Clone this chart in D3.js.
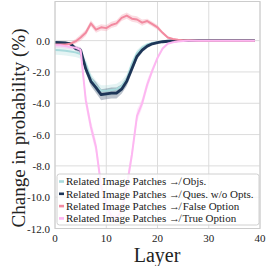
<!DOCTYPE html>
<html>
<head>
<meta charset="utf-8">
<script src="https://cdn.jsdelivr.net/npm/d3@7"></script>
<style>
  body { margin: 0; background: #fff; }
</style>
</head>
<body>
<svg id="chart" width="266" height="266"></svg>
<script>
// layers 0..39
const layers = d3.range(0, 40);

const objVals  = [-0.6,-0.62,-0.65,-0.7,-0.75,-0.85,-1.5,-2.4,-2.9,-3.2,-3.2,-3.15,-3.1,-2.9,-2.45,-1.5,-0.8,-0.45,-0.25,-0.15,-0.1,-0.05,-0.03,-0.01,0,0,0,0,0,0,0,0,0,0,0,0,0,0,0,0];
const quesVals = [-0.12,-0.13,-0.15,-0.2,-0.5,-0.6,-1.8,-2.6,-3.0,-3.45,-3.4,-3.35,-3.35,-3.1,-2.6,-1.8,-1.0,-0.6,-0.35,-0.2,-0.12,-0.07,-0.04,-0.02,0,0,0,0,0,0,0,0,0,0,0,0,0,0,0,0];
const falseVals = [-0.25,-0.25,-0.25,-0.2,-0.05,0.2,0.5,1.1,0.7,0.85,0.8,1.0,1.1,1.45,1.6,1.4,1.35,1.15,1.25,1.05,0.85,0.5,0.2,0.1,0.05,0.03,0.02,0.01,0,0,0,0,0,0,0,0,0,0,0,0];
const trueVals = [-0.3,-0.3,-0.35,-0.4,-0.45,-0.6,-3.8,-5.5,-6.8,-9.3,-10.5,-11.2,-11.3,-10.9,-9.3,-7.3,-4.8,-4.0,-2.8,-1.9,-1.1,-0.5,-0.2,-0.1,-0.05,-0.02,0,0,0,0,0,0,0,0,0,0,0,0,0,0];

// confidence half-widths
const objErr  = [0.3,0.3,0.3,0.3,0.3,0.3,0.3,0.3,0.35,0.35,0.35,0.35,0.35,0.35,0.3,0.25,0.2,0.15,0.1,0.08,0.05,0.05,0.03,0.03,0.02,0.02,0.02,0.02,0.02,0.02,0.02,0.02,0.02,0.02,0.02,0.02,0.02,0.02,0.02,0.02];
const quesErr = [0.1,0.1,0.1,0.1,0.15,0.15,0.25,0.3,0.35,0.35,0.35,0.35,0.35,0.3,0.3,0.25,0.2,0.15,0.1,0.05,0.03,0.03,0.03,0.03,0.03,0.03,0.03,0.03,0.03,0.03,0.03,0.03,0.03,0.03,0.03,0.03,0.03,0.03,0.03,0.03];
const falseErr = [0.1,0.1,0.1,0.1,0.15,0.2,0.2,0.2,0.2,0.2,0.2,0.2,0.2,0.2,0.2,0.2,0.2,0.2,0.15,0.15,0.15,0.1,0.08,0.05,0.03,0.03,0.03,0.03,0.03,0.03,0.03,0.03,0.03,0.03,0.03,0.03,0.03,0.03,0.03,0.03];
const trueErr = [0.15,0.15,0.15,0.15,0.15,0.2,0.4,0.4,0.4,0.4,0.4,0.4,0.4,0.4,0.4,0.4,0.4,0.3,0.3,0.2,0.15,0.1,0.05,0.03,0.03,0.03,0.03,0.03,0.03,0.03,0.03,0.03,0.03,0.03,0.03,0.03,0.03,0.03,0.03,0.03];

const seriesNames = [
  "Related Image Patches \u219B Objs.",
  "Related Image Patches \u219B Ques. w/o Opts.",
  "Related Image Patches \u219B False Option",
  "Related Image Patches \u219B True Option"
];
const colors = ["#a8dadc", "#1d3557", "#f28aa0", "#fdb7f1"];
const widths = [2, 2.8, 2, 2];

const xTicks = [0, 10, 20, 30, 40];
const yTicks = [0, -2, -4, -6, -8, -10, -12];

const series = [
  { vals: objVals, err: objErr },
  { vals: quesVals, err: quesErr },
  { vals: falseVals, err: falseErr },
  { vals: trueVals, err: trueErr }
];

const FONT = "Liberation Serif, DejaVu Serif, serif";

const svg = d3.select("#chart");
const x = d3.scaleLinear().domain([0, 40]).range([55, 260]);
const y = d3.scaleLinear().domain([-12, 2.5]).range([228.5, 1.5]);

// grid
svg.append("g").selectAll("line").data(xTicks).enter().append("line")
  .attr("x1", d => x(d)).attr("x2", d => x(d))
  .attr("y1", y.range()[1]).attr("y2", y.range()[0])
  .attr("stroke", "#dcdcdc").attr("stroke-width", 1);
svg.append("g").selectAll("line").data(yTicks).enter().append("line")
  .attr("y1", d => y(d)).attr("y2", d => y(d))
  .attr("x1", x.range()[0]).attr("x2", x.range()[1])
  .attr("stroke", "#dcdcdc").attr("stroke-width", 1);

// bands + lines
const area = d3.area()
  .x((d, i) => x(layers[i]))
  .y0(d => y(d[0] - d[1]))
  .y1(d => y(d[0] + d[1]));
const line = d3.line()
  .x((d, i) => x(layers[i]))
  .y(d => y(d));

series.forEach((s, k) => {
  svg.append("path")
    .datum(s.vals.map((v, i) => [v, s.err[i]]))
    .attr("d", area)
    .attr("fill", colors[k]).attr("fill-opacity", 0.3);
});
series.forEach((s, k) => {
  svg.append("path")
    .datum(s.vals)
    .attr("d", line)
    .attr("fill", "none")
    .attr("stroke", colors[k])
    .attr("stroke-width", widths[k])
    .attr("stroke-linejoin", "round");
});

// frame
svg.append("rect")
  .attr("x", x.range()[0]).attr("y", y.range()[1])
  .attr("width", x.range()[1] - x.range()[0])
  .attr("height", y.range()[0] - y.range()[1])
  .attr("fill", "none").attr("stroke", "#cccccc").attr("stroke-width", 1);

// tick labels
svg.append("g").selectAll("text").data(yTicks).enter().append("text")
  .attr("x", 50).attr("y", d => y(d) + 4)
  .attr("text-anchor", "end")
  .style("font-family", FONT).style("font-size", "11px").style("fill", "#222")
  .text(d => d.toFixed(1));
svg.append("g").selectAll("text").data(xTicks).enter().append("text")
  .attr("x", d => x(d)).attr("y", 242)
  .attr("text-anchor", "middle")
  .style("font-family", FONT).style("font-size", "11px").style("fill", "#222")
  .text(d => d);

// axis titles
svg.append("text")
  .attr("x", 157).attr("y", 262)
  .attr("text-anchor", "middle")
  .style("font-family", FONT).style("font-size", "20px").style("fill", "#222")
  .text("Layer");
svg.append("text")
  .attr("transform", "translate(25,128) rotate(-90)")
  .attr("text-anchor", "middle")
  .style("font-family", FONT).style("font-size", "19px").style("fill", "#222")
  .text("Change in probability (%)");

// legend
const leg = svg.append("g");
leg.append("rect")
  .attr("x", 57).attr("y", 174).attr("width", 202).attr("height", 51)
  .attr("rx", 2.5)
  .attr("fill", "#fff").attr("fill-opacity", 0.8)
  .attr("stroke", "#d0d0d0").attr("stroke-width", 1);
seriesNames.forEach((name, k) => {
  const yy = 181.5 + k * 12.3;
  leg.append("rect")
    .attr("x", 59).attr("y", yy - 1.3).attr("width", 5).attr("height", 2.6)
    .attr("fill", colors[k]);
  leg.append("text")
    .attr("x", 66).attr("y", yy + 3.8)
    .style("font-family", FONT).style("font-size", "11px").style("fill", "#222")
    .text(name);
});
</script>
</body>
</html>
